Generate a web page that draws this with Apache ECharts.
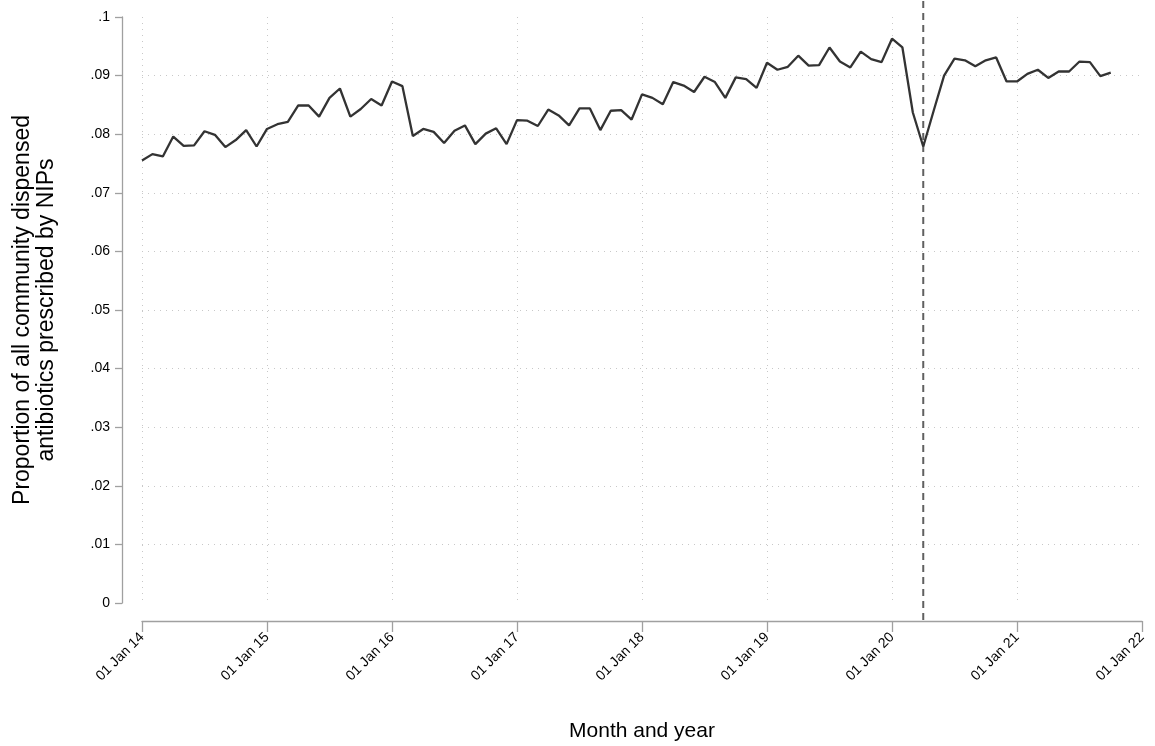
<!DOCTYPE html>
<html>
<head>
<meta charset="utf-8">
<script src="https://cdn.jsdelivr.net/npm/echarts@6/dist/echarts.min.js"></script>
<style>
html,body{margin:0;padding:0;background:#fff;}
#c{width:1155px;height:746px;}
</style>
</head>
<body>
<div id="c"></div>
<script>
// Monthly proportions, Jan 2014 .. Oct 2021 (index 0 = Jan 2014)
const startYear = 2014;
const values2014 = [0.0755,0.0766,0.0762,0.0796,0.0780,0.0781,0.0805,0.0799,0.0778,0.0790,0.0807,0.0779];
const values2015 = [0.0809,0.0817,0.0821,0.0849,0.0849,0.0830,0.0862,0.0878,0.0830,0.0843,0.0860,0.0849];
const values2016 = [0.0890,0.0882,0.0797,0.0809,0.0804,0.0785,0.0806,0.0815,0.0783,0.0801,0.0810,0.0783];
const values2017 = [0.0824,0.0823,0.0814,0.0842,0.0832,0.0815,0.0844,0.0844,0.0807,0.0840,0.0841,0.0825];
const values2018 = [0.0868,0.0862,0.0851,0.0889,0.0883,0.0872,0.0898,0.0889,0.0862,0.0897,0.0894,0.0879];
const values2019 = [0.0922,0.0910,0.0915,0.0934,0.0917,0.0918,0.0948,0.0924,0.0914,0.0941,0.0928,0.0923];
const values2020 = [0.0963,0.0948,0.0837,0.0779,0.0840,0.0900,0.0929,0.0926,0.0916,0.0926,0.0931,0.0890];
const values2021 = [0.0890,0.0903,0.0910,0.0896,0.0907,0.0907,0.0924,0.0923,0.0899,0.0905];
const values = [].concat(values2014,values2015,values2016,values2017,values2018,values2019,values2020,values2021);

// x axis (months since Jan 2014), yearly ticks
const xMin = 0, xMax = 96, xInterval = 12;
const yTicks = [0,0.01,0.02,0.03,0.04,0.05,0.06,0.07,0.08,0.09,0.1];
const interventionMonth = 75; // 01 Apr 2020

const seriesData = values.map((v,i)=>[i,v]);
const vline = [[interventionMonth,0],[interventionMonth,1]];

const txt = '#000';
const axisCol = '#a0a0a0';
const font = 'Liberation Sans, Arial, sans-serif';

const chart = echarts.init(document.getElementById('c'));
chart.setOption({
  animation:false,
  backgroundColor:'#fff',
  grid:[
    {left:142,right:13,top:17,bottom:143,containLabel:false,outerBoundsMode:'none'},
    {left:142,right:13,top:1,bottom:126,containLabel:false,outerBoundsMode:'none'}
  ],
  xAxis:[{
    type:'value', gridIndex:0, min:xMin, max:xMax, interval:xInterval,
    offset:18,
    axisLine:{show:true,onZero:false,lineStyle:{color:axisCol,width:1.3}},
    axisTick:{show:true,length:11,lineStyle:{color:axisCol,width:1.3}},
    axisLabel:{rotate:45,margin:14,color:txt,fontSize:14,fontFamily:font,
      formatter:v=>'01 Jan '+String((startYear+v/12)%100).padStart(2,'0')},
    splitLine:{show:true,showMinLine:true,showMaxLine:false,lineStyle:{color:'#c8c8c8',type:[1,5],width:1}},
    name:'Month and year', nameLocation:'middle', nameGap:100,
    nameTextStyle:{color:txt,fontSize:21,fontFamily:font}
  },{
    type:'value', gridIndex:1, min:xMin, max:xMax, show:false
  }],
  yAxis:[{
    type:'value', gridIndex:0, min:0, max:0.1, interval:0.01,
    offset:20,
    axisLine:{show:true,onZero:false,lineStyle:{color:axisCol,width:1.3}},
    axisTick:{show:true,length:7,lineStyle:{color:axisCol,width:1.3}},
    axisLabel:{margin:12,color:txt,fontSize:14,fontFamily:font,
      formatter:v=>{ if(v===0) return '0'; return String(+v.toFixed(2)).replace(/^0\./,'.'); }},
    splitLine:{show:true,showMinLine:false,showMaxLine:false,lineStyle:{color:'#c8c8c8',type:[1,5],width:1}},
    name:'Proportion of all community dispensed\nantibiotics prescribed by NIPs',
    nameLocation:'middle', nameGap:63, nameRotate:90,
    nameTextStyle:{color:txt,fontSize:23,fontFamily:font,lineHeight:24,align:'center'}
  },{
    type:'value', gridIndex:1, min:0, max:1, show:false
  }],
  series:[{
    type:'line', xAxisIndex:0, yAxisIndex:0, data:seriesData,
    symbol:'none', lineStyle:{color:'#333333',width:2.3}, z:3
  },{
    type:'line', xAxisIndex:1, yAxisIndex:1, data:vline,
    symbol:'none', lineStyle:{color:'#606060',width:2,type:[7,5]}, z:2
  }]
});
</script>
</body>
</html>
